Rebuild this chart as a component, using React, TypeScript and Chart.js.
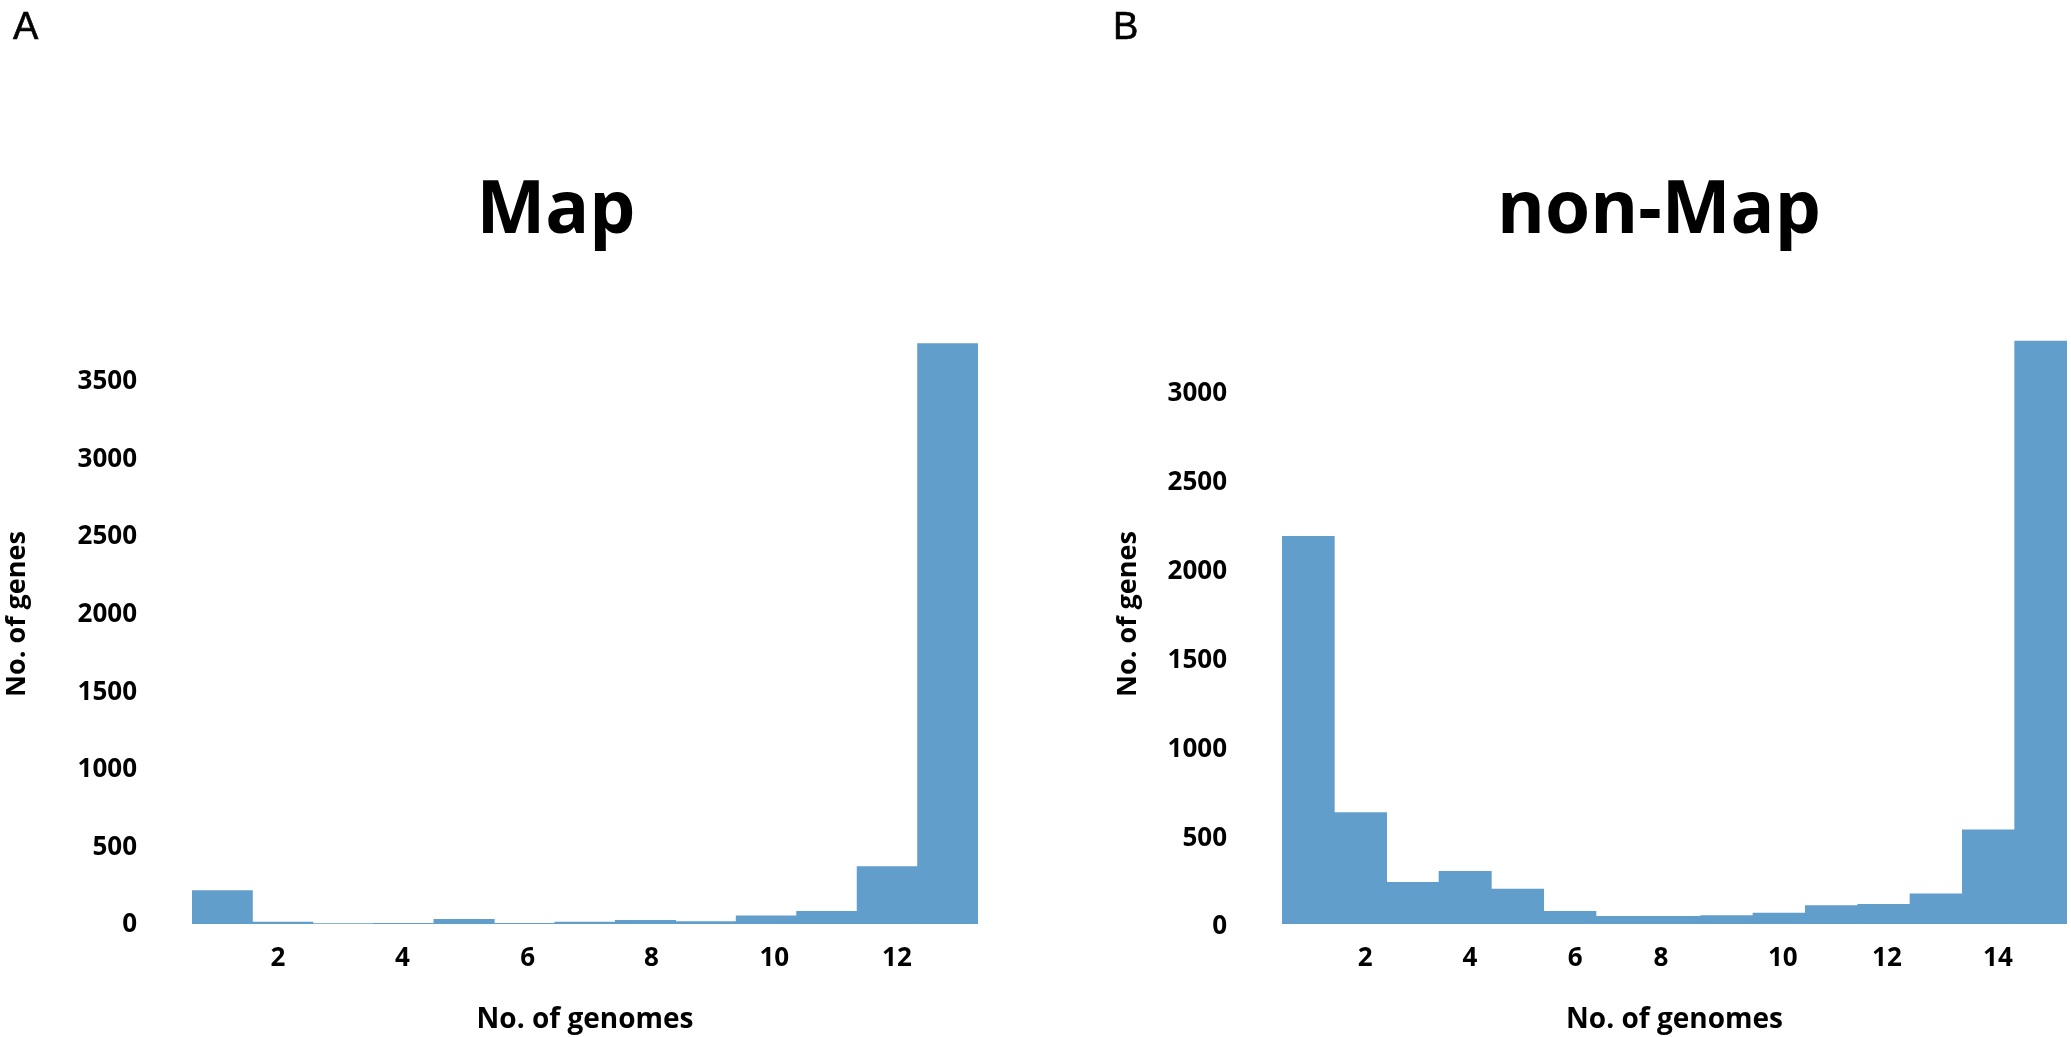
import React, { useRef, useEffect } from "react";
import { Chart, registerables } from "chart.js";

Chart.register(...registerables);

const genomesA = [1, 2, 3, 4, 5, 6, 7, 8, 9, 10, 11, 12, 13];
const genesA = [215, 13, 2, 5, 30, 5, 13, 24, 15, 52, 82, 370, 3740];
const genomesB = [1, 2, 3, 4, 5, 6, 7, 8, 9, 10, 11, 12, 13, 14, 15];
const genesB = [2180, 626, 235, 296, 196, 71, 43, 43, 48, 61, 103, 111, 169, 529, 3279];

const xLabelsA = ["2", "4", "6", "8", "10", "12"];
const xLabelsB = ["2", "4", "6", "8", "10", "12", "14"];
// the labels in the figure sit a little off their bins
const xTicksA = [1.92, 3.98, 6.05, 8.1, 10.13, 12.16];
const xTicksB = [2.09, 4.09, 6.1, 7.74, 10.07, 12.06, 14.18];
const yTicksA = [0, 500, 1000, 1500, 2000, 2500, 3000, 3500];
const yTicksB = [0, 500, 1000, 1500, 2000, 2500, 3000];

const BAR = "#629ECB";
const FONT = "'Open Sans', sans-serif";

type PanelProps = {
  left: number;
  width: number;
  plotLeft: number;
  paddingLeft: number;
  paddingRight: number;
  labelOffset: number;
  genomes: number[];
  genes: number[];
  xTicks: number[];
  xLabels: string[];
  yTicks: number[];
  yMax: number;
};

const Panel: React.FC<PanelProps> = ({
  left,
  width,
  plotLeft,
  paddingLeft,
  paddingRight,
  labelOffset,
  genomes,
  genes,
  xTicks,
  xLabels,
  yTicks,
  yMax,
}) => {
  const chartRef = useRef<HTMLCanvasElement | null>(null);

  useEffect(() => {
    if (!chartRef.current) return;

    const chart = new Chart(chartRef.current, {
      type: "bar",
      data: {
        datasets: [
          {
            data: genomes.map((g, i) => ({ x: g, y: genes[i] })),
            backgroundColor: BAR,
            borderColor: BAR,
            borderWidth: 0,
            barPercentage: 1,
            categoryPercentage: 1,
          },
        ],
      },
      options: {
        responsive: false,
        animation: false,
        devicePixelRatio: 1,
        layout: { padding: { top: 304, right: paddingRight, left: paddingLeft, bottom: 0 } },
        plugins: { legend: { display: false }, tooltip: { enabled: false } },
        scales: {
          x: {
            type: "linear",
            offset: false,
            min: 0.5,
            max: genomes.length + 0.5,
            grid: { display: false },
            border: { display: false },
            afterBuildTicks: (axis) => {
              axis.ticks = xTicks.map((value) => ({ value }));
            },
            afterFit: (axis) => {
              axis.height = 113;
            },
            ticks: {
              autoSkip: false,
              maxRotation: 0,
              padding: 11,
              color: "#000",
              font: { size: 26, weight: "bold", family: FONT },
              callback: (_v, i) => xLabels[i],
            },
            title: {
              display: true,
              text: "No. of genomes",
              color: "#000",
              padding: { top: 0, bottom: 0 },
              font: { size: 28, weight: "bold", family: FONT },
            },
          },
          y: {
            min: 0,
            max: yMax,
            grid: { display: false, drawTicks: false },
            border: { display: false },
            afterBuildTicks: (axis) => {
              axis.ticks = yTicks.map((value) => ({ value }));
            },
            afterFit: (axis) => {
              axis.width = plotLeft - paddingLeft;
            },
            ticks: {
              padding: 55,
              labelOffset,
              color: "#000",
              font: { size: 26, weight: "bold", family: FONT },
              callback: (v) => String(v),
            },
            title: {
              display: true,
              text: "No. of genes",
              color: "#000",
              padding: { top: 0, bottom: 0 },
              font: { size: 27, weight: "bold", family: FONT },
            },
          },
        },
      },
    });

    return () => {
      chart.destroy();
    };
  }, []);

  return (
    <canvas
      ref={chartRef}
      width={width}
      height={1037}
      style={{ position: "absolute", left, top: 0, width, height: 1037 }}
    />
  );
};

const heading = (left: number): React.CSSProperties => ({
  position: "absolute",
  left,
  top: 168,
  transform: "translateX(-50%)",
  font: `bold 73px/1 ${FONT}`,
  color: "#000",
  whiteSpace: "nowrap",
});

const panelLetter = (left: number): React.CSSProperties => ({
  position: "absolute",
  left,
  top: 6,
  font: "38px/1.1 'Liberation Sans', sans-serif",
  color: "#000",
  WebkitTextStroke: "0.6px #000",
});

export default function App() {
  useEffect(() => {
    document.body.style.margin = "0";
  }, []);

  return (
    <div style={{ position: "relative", width: 2071, height: 1037, background: "#fff", overflow: "hidden" }}>
      <Panel
        left={0}
        width={1000}
        plotLeft={192}
        paddingLeft={1}
        paddingRight={22}
        labelOffset={1}
        genomes={genomesA}
        genes={genesA}
        xTicks={xTicksA}
        xLabels={xLabelsA}
        yTicks={yTicksA}
        yMax={3995}
      />
      <Panel
        left={1100}
        width={971}
        plotLeft={182}
        paddingLeft={12}
        paddingRight={4}
        labelOffset={3}
        genomes={genomesB}
        genes={genesB}
        xTicks={xTicksB}
        xLabels={xLabelsB}
        yTicks={yTicksB}
        yMax={3487}
      />
      <div style={panelLetter(13)}>A</div>
      <div style={panelLetter(1113)}>B</div>
      <div style={heading(556)}>Map</div>
      <div style={heading(1659)}>non-Map</div>
    </div>
  );
}
